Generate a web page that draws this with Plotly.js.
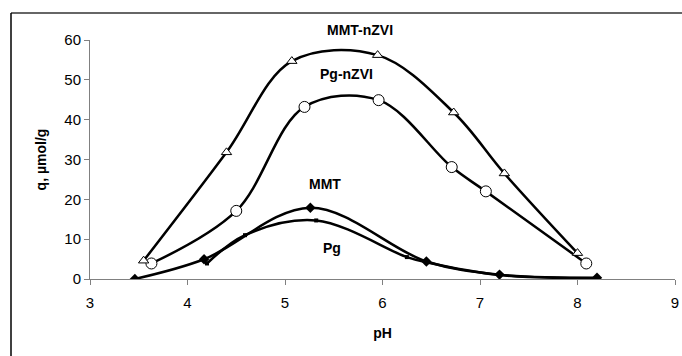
<!DOCTYPE html>
<html>
<head>
<meta charset="utf-8">
<script src="https://cdn.plot.ly/plotly-3.0.1.min.js"></script>
<style>html,body{margin:0;padding:0;background:#fff;}#chart{width:682px;height:356px;}</style>
</head>
<body>
<div id="chart"></div>
<script>
// Data
const mmtNzviPH = [3.55, 4.40, 5.07, 5.95, 6.73, 7.25, 8.00];
const mmtNzviQ  = [4.6, 31.8, 54.7, 56.2, 41.8, 26.5, 6.5];

const pgNzviPH = [3.63, 4.50, 5.20, 5.96, 6.71, 7.06, 8.09];
const pgNzviQ  = [3.9, 17.1, 43.2, 44.9, 28.1, 22.0, 3.9];

const mmtPH = [3.46, 4.17, 5.26, 6.45, 7.20, 8.20];
const mmtQ  = [0.0, 4.95, 17.9, 4.4, 1.1, 0.3];

const pgPH = [4.20, 4.59, 5.32, 6.25, 6.45, 7.20, 8.20];
const pgQ  = [3.9, 11.0, 14.7, 5.5, 4.2, 1.0, 0.2];

const seriesLabels = ["MMT-nZVI", "Pg-nZVI", "MMT", "Pg"];
const labelPH = [5.77, 5.63, 5.41, 5.48];
const labelQ  = [62.5, 51.4, 23.8, 7.7];

const xTicks = [3, 4, 5, 6, 7, 8, 9];
const yTicks = [0, 10, 20, 30, 40, 50, 60];

const lineStyle = {color: '#000', width: 2.5, shape: 'spline', smoothing: 1};

const traces = [
  {x: mmtPH, y: mmtQ, mode: 'lines+markers', line: lineStyle,
   marker: {symbol: 'diamond', size: 8, color: '#000'}},
  {x: pgPH, y: pgQ, mode: 'lines+markers', line: lineStyle,
   marker: {symbol: 'square', size: 4, color: '#000'}},
  {x: pgNzviPH, y: pgNzviQ, mode: 'lines+markers', line: lineStyle,
   marker: {symbol: 'circle', size: 11, color: '#fff', line: {color: '#000', width: 1}}},
  {x: mmtNzviPH, y: mmtNzviQ, mode: 'lines+markers', line: lineStyle,
   marker: {symbol: 'triangle-up', size: 9, color: '#fff', line: {color: '#000', width: 1}}}
];

const X0 = 3, X1 = 9, Y0 = 0, Y1 = 60;
const annotations = seriesLabels.map((t, i) => ({
  x: (labelPH[i] - X0) / (X1 - X0), y: (labelQ[i] - Y0) / (Y1 - Y0),
  xref: 'paper', yref: 'paper', xanchor: 'center', yanchor: 'middle',
  text: '<b>' + t + '</b>',
  showarrow: false, font: {family: 'Arial, Liberation Sans, sans-serif', size: 14, color: '#000'}
}));

const L = 90, R = 7, T = 40, B = 77;
const pw = 682 - L - R, ph = 356 - T - B;
const bx = (11 - L) / pw, by = 1 + (T - 13) / ph, byb = -(B + 5) / ph;

const layout = {
  width: 682, height: 356,
  margin: {l: L, r: R, t: T, b: B, pad: 0},
  paper_bgcolor: '#fff', plot_bgcolor: '#fff',
  showlegend: false,
  font: {family: 'Arial, Liberation Sans, sans-serif', size: 14, color: '#000'},
  xaxis: {
    range: [X0, X1], tickvals: xTicks, ticktext: xTicks.map(String),
    showgrid: false, zeroline: false, showline: true, linecolor: '#808080', linewidth: 1,
    ticks: 'outside', ticklen: 5, tickcolor: '#808080', ticklabelstandoff: 5,
    tickfont: {size: 15},
    title: {text: '<b>pH</b>', font: {size: 14}, standoff: 18}
  },
  yaxis: {
    range: [Y0, Y1], tickvals: yTicks, ticktext: yTicks.map(String),
    showgrid: false, zeroline: false, showline: true, linecolor: '#808080', linewidth: 1,
    ticks: 'outside', ticklen: 5, tickcolor: '#808080',
    tickfont: {size: 15},
    title: {text: '<b>q, µmol/g</b>', font: {size: 14}, standoff: 14}
  },
  annotations: annotations,
  shapes: [
    {type: 'line', xref: 'paper', yref: 'paper', x0: bx, x1: 1.5, y0: by, y1: by,
     line: {color: '#333', width: 1.5}},
    {type: 'line', xref: 'paper', yref: 'paper', x0: bx, x1: bx, y0: by, y1: byb,
     line: {color: '#000', width: 1.5}}
  ]
};

Plotly.newPlot('chart', traces, layout, {displayModeBar: false, staticPlot: true});
</script>
</body>
</html>
